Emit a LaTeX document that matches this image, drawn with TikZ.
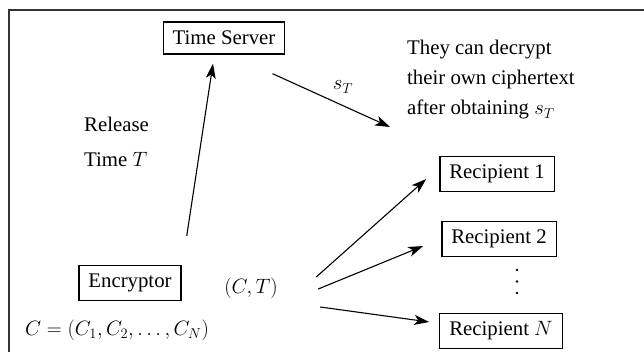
\documentclass[tikz,border=0pt]{standalone}
\usepackage{fontspec}
\setmainfont{Liberation Serif}
\usetikzlibrary{
  calc,
  arrows.meta,
}

\begin{document}
\begin{tikzpicture}[
  x=1pt, y=-1pt,
  every node/.style={font=\fontsize{20.8}{30}\selectfont},
  party/.style={draw, line width=1.3pt, inner xsep=9.5pt, minimum height=35pt},
  msg/.style={-{Stealth[length=15pt,width=10pt,inset=4pt]}, line width=1.1pt},
]
\useasboundingbox (0,0) rectangle (644,352);
\draw[line width=1.5pt, black!80] (9,352) -- (9,10) -- (644,10);
% parties
\node[party, minimum height=32pt] (server) at (224,38) {Time Server};
\node[party] (encryptor) at (130,283) {Encryptor};
\node[party] (rcpt1) at (497,174) {Recipient 1};
\node[party] (rcpt2) at (499,239) {Recipient 2};
\node[party] (rcptN) at (501,331) {Recipient $N$};
\foreach \y in {270,281.5,293} \fill (517,\y) circle (1.3);
% labels
\node (cipher) at (117,330) {$C=(C_1,C_2,\ldots,C_N)$};
\node (pair) at (251,288) {$(C,T)$};
\node (token) at (343,87) {$s_T$};
\node[anchor=west, align=left, inner sep=0pt] (release) at (84,142) {Release\\[5pt]Time $T$};
\node[anchor=west, align=left, inner sep=0pt] (note) at (407,80) {They can decrypt\\their own ciphertext\\after obtaining $s_T$};
% messages
\coordinate (tokenend) at (390,127);
\draw[msg] ($(encryptor.north east)+(5,-29)$) -- ($(server.south)+(-11,9)$);
\draw[msg] ($(server.south east)+(-13,19)$) -- (tokenend);
\draw[msg] ($(pair.east)+(35,-11)$) -- ($(rcpt1.west)+(-13,5)$);
\draw[msg] ($(pair.east)+(37,1)$) -- ($(rcpt2.west)+(-18,7)$);
\draw[msg] ($(pair.east)+(39,19)$) -- ($(rcptN.west)+(-10,-9)$);
\end{tikzpicture}
\end{document}
